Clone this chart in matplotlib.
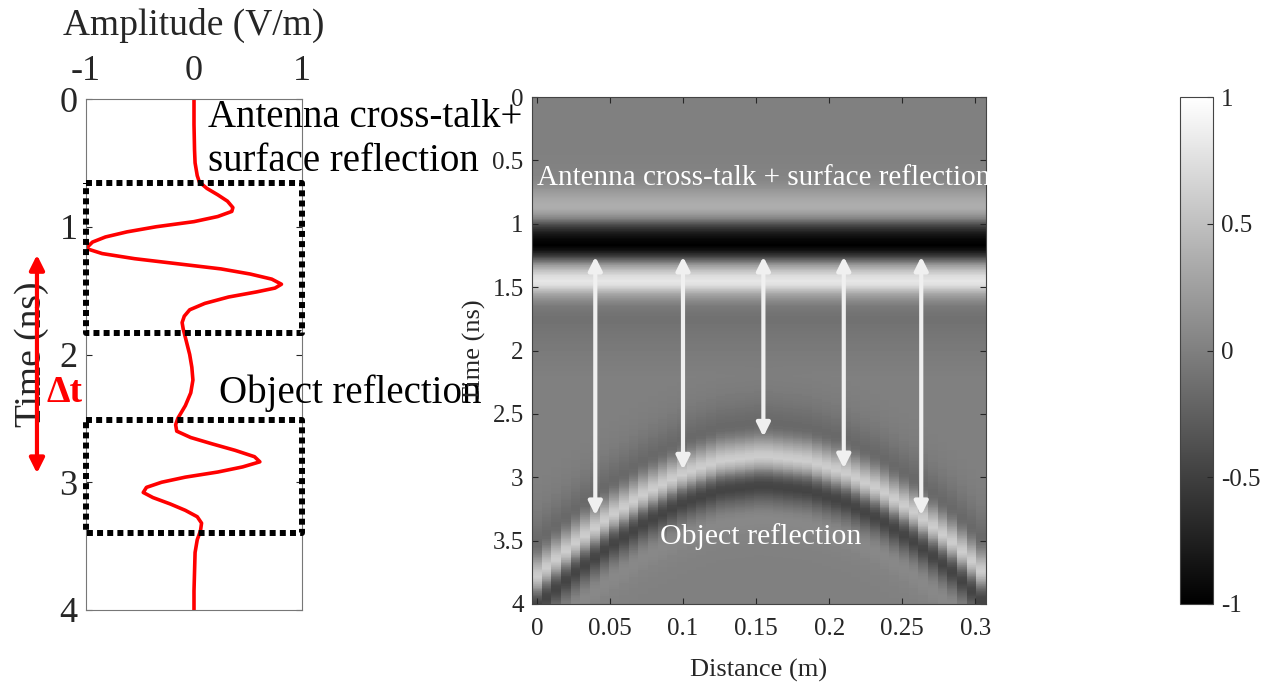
import numpy as np
import matplotlib.pyplot as plt

plt.rcParams['font.family'] = ['Liberation Serif', 'DejaVu Serif']
plt.rcParams['axes.unicode_minus'] = False

# trace at the apex position
trace_t = [0, 0.2, 0.4, 0.5, 0.6, 0.65, 0.7, 0.75, 0.8, 0.85, 0.88, 0.92, 0.96,
           1.0, 1.04, 1.08, 1.12, 1.17, 1.21, 1.25, 1.29, 1.33, 1.37, 1.41, 1.45,
           1.48, 1.51, 1.55, 1.6, 1.65, 1.7, 1.75, 1.8, 1.9, 2.0, 2.1, 2.2, 2.3,
           2.4, 2.5, 2.55, 2.6, 2.65, 2.7, 2.75, 2.8, 2.84, 2.88, 2.92, 2.96, 3.0,
           3.04, 3.08, 3.12, 3.17, 3.22, 3.27, 3.32, 3.38, 3.45, 3.55, 3.7, 3.85, 4.0]
trace_amp = [0.0, 0.0, 0.005, 0.01, 0.03, 0.05, 0.12, 0.22, 0.31, 0.36, 0.35, 0.22, 0.0,
             -0.35, -0.62, -0.82, -0.94, -1.0, -0.85, -0.55, -0.15, 0.25, 0.52, 0.72, 0.81,
             0.75, 0.58, 0.32, 0.10, -0.04, -0.09, -0.11, -0.10, -0.07, -0.04, -0.02, -0.01, -0.03,
             -0.08, -0.15, -0.17, -0.16, -0.03, 0.17, 0.38, 0.56, 0.61, 0.45, 0.22, -0.08, -0.30,
             -0.44, -0.47, -0.38, -0.22, -0.08, 0.03, 0.07, 0.06, 0.03, 0.01, 0.005, 0.0, 0.0]

# dotted boxes (time ranges)
box_direct = (0.66, 1.83)
box_object = (2.51, 3.40)

# reflection peak time across the scan
refl_dist = [0.0, 0.025, 0.05, 0.075, 0.1, 0.125, 0.155, 0.185, 0.21, 0.235, 0.26, 0.285, 0.305]
refl_peak_t = [3.78, 3.53, 3.31, 3.12, 2.97, 2.87, 2.83, 2.87, 2.96, 3.10, 3.29, 3.52, 3.75]
apex_t = 2.83
split_t = 2.2
n_cols = 47
col_dist = np.linspace(0, 0.304, n_cols)

# white arrows
arrow_x = [0.04, 0.1, 0.155, 0.21, 0.263]
arrow_top = [1.26, 1.26, 1.26, 1.26, 1.26]
arrow_bot = [3.30, 2.94, 2.68, 2.93, 3.30]

# build the radargram from the trace
tt = np.array(trace_t)
aa = np.array(trace_amp)
direct = np.where(tt < split_t, aa, 0)
refl = np.where(tt >= split_t, aa, 0)
t_grid = np.linspace(0, 4, 801)
shift = np.interp(col_dist, refl_dist, refl_peak_t) - apex_t
img = np.zeros((len(t_grid), n_cols))
for j in range(n_cols):
    img[:, j] = np.interp(t_grid, tt, direct) + np.interp(t_grid - shift[j], tt, refl, left=0, right=0)

W, H = 1281, 690
fig = plt.figure(figsize=(W/100, H/100), dpi=100)
tick_col = '#262626'

# ---- left panel
ax1 = fig.add_axes([86/W, 1-610/H, 216/W, 511/H])
ax1.plot(trace_amp, trace_t, color='red', lw=2.6)
for (a, b) in [box_direct, box_object]:
    ax1.plot([-1, 1, 1, -1, -1], [a, a, b, b, a], color='black', lw=4.3,
             linestyle=(0, (1, 0.7)), clip_on=False, zorder=3)
ax1.set_xlim(-1, 1)
ax1.set_ylim(4, 0)
ax1.set_xticks([-1, 0, 1])
ax1.set_xticklabels(['-1', '0', '1'])
ax1.set_yticks([0, 1, 2, 3, 4])
ax1.xaxis.tick_top()
ax1.tick_params(axis='x', length=0, labelsize=26, colors=tick_col, pad=8)
ax1.tick_params(axis='y', direction='in', length=4, labelsize=26, colors=tick_col,
                right=True, pad=6)
for s in ax1.spines.values():
    s.set_color('#777777')
ax1.text(0.5, 1.0 + 74/511, 'Amplitude (V/m)', transform=ax1.transAxes, fontsize=27,
         color=tick_col, ha='center', va='center')
ax1.text(-54/216, 0.5, 'Time (ns)', transform=ax1.transAxes, fontsize=27,
         color=tick_col, ha='center', va='center', rotation=90)

ax1.annotate('', xy=(-0.227, 1.22), xytext=(-0.227, 2.93),
             xycoords=('axes fraction', 'data'), textcoords=('axes fraction', 'data'),
             arrowprops=dict(arrowstyle='<|-|>', color='red', lw=3,
                             mutation_scale=22, shrinkA=0, shrinkB=0),
             annotation_clip=False)
ax1.text(-1.2, 2.30, 'Δt', color='red', fontsize=27, fontweight='bold',
         ha='center', va='center', clip_on=False)
ax1.text(0.13, 0.32, 'Antenna cross-talk+\nsurface reflection', fontsize=28,
         ha='left', va='center', linespacing=1.25, clip_on=False, zorder=5)
ax1.text(0.23, 2.30, 'Object reflection', fontsize=28, ha='left', va='center',
         clip_on=False, zorder=5)

# ---- right panel
ax2 = fig.add_axes([532/W, 1-604/H, 454/W, 507/H])
dx = col_dist[1] - col_dist[0]
im = ax2.imshow(img, cmap='gray', vmin=-1, vmax=1, aspect='auto', interpolation='nearest',
                extent=[col_dist[0]-dx/2, col_dist[-1]+dx/2, 4, 0])
for x, a, b in zip(arrow_x, arrow_top, arrow_bot):
    ax2.annotate('', xy=(x, a), xytext=(x, b),
                 arrowprops=dict(arrowstyle='<|-|>', color='#f0f0f0', lw=3,
                                 mutation_scale=20, shrinkA=0, shrinkB=0))
ax2.text(0.155, 0.64, 'Antenna cross-talk + surface reflection', color='white',
         fontsize=21, ha='center', va='center', clip_on=False)
ax2.text(0.153, 3.47, 'Object reflection', color='white', fontsize=21.5,
         ha='center', va='center')
ax2.set_xticks(np.arange(0, 0.31, 0.05))
ax2.set_xticklabels(['0', '0.05', '0.1', '0.15', '0.2', '0.25', '0.3'])
ax2.set_yticks(np.arange(0, 4.01, 0.5))
ax2.set_yticklabels(['0', '0.5', '1', '1.5', '2', '2.5', '3', '3.5', '4'])
ax2.tick_params(direction='in', length=4, labelsize=18, colors=tick_col,
                top=True, right=True)
ax2.tick_params(axis='x', pad=10)
ax2.tick_params(axis='y', pad=6)
for s in ax2.spines.values():
    s.set_color('#444444')
ax2.text(0.5, -66/507, 'Distance (m)', transform=ax2.transAxes, fontsize=19,
         color=tick_col, ha='center', va='center')
ax2.text(-58/454, 0.5, 'Time (ns)', transform=ax2.transAxes, fontsize=19,
         color=tick_col, ha='center', va='center', rotation=90)

cax = fig.add_axes([1180/W, 1-604/H, 33/W, 507/H])
cb = fig.colorbar(im, cax=cax, ticks=[-1, -0.5, 0, 0.5, 1])
cb.ax.set_yticklabels(['-1', '-0.5', '0', '0.5', '1'])
cb.ax.tick_params(direction='in', length=4, labelsize=18, colors=tick_col, pad=6)
cb.outline.set_edgecolor('#444444')

fig.savefig('out.png', dpi=100)
